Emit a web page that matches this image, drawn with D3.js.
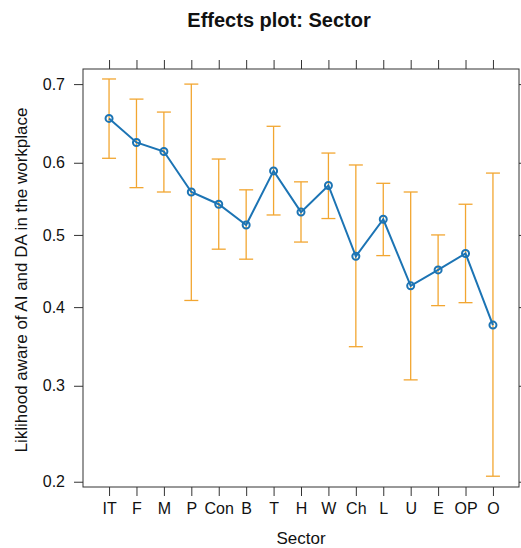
<!DOCTYPE html>
<html>
<head>
<meta charset="utf-8">
<script src="https://cdn.jsdelivr.net/npm/d3@7"></script>
<style>
  html, body { margin: 0; padding: 0; background: #fff; }
  svg { display: block; font-family: "Liberation Sans", Arial, Helvetica, sans-serif; }
</style>
</head>
<body>
<svg id="chart" width="521" height="548"></svg>
<script>
// Sector effects: fitted probability with lower / upper confidence limits
const sectors = ["IT", "F", "M", "P", "Con", "B", "T", "H", "W", "Ch", "L", "U", "E", "OP", "O"];
const fit     = [0.658, 0.627, 0.615, 0.560, 0.543, 0.514, 0.589, 0.532, 0.569, 0.470, 0.522, 0.429, 0.451, 0.474, 0.376];
const lower   = [0.606, 0.566, 0.560, 0.409, 0.480, 0.466, 0.528, 0.490, 0.523, 0.348, 0.471, 0.307, 0.402, 0.406, 0.205];
const upper   = [0.706, 0.682, 0.666, 0.700, 0.605, 0.563, 0.648, 0.574, 0.613, 0.597, 0.572, 0.560, 0.500, 0.543, 0.586];
const yTicks  = [0.2, 0.3, 0.4, 0.5, 0.6, 0.7];

const W = 521, H = 548;
const panel = { left: 83, right: 519, top: 69, bottom: 487 };

const svg = d3.select("#chart");
svg.append("rect").attr("width", W).attr("height", H).attr("fill", "#fff");

const logit = p => Math.log(p / (1 - p));
const invLogit = z => 1 / (1 + Math.exp(-z));

// x: categorical positions
const x = d3.scalePoint().domain(sectors).range([panel.left, panel.right]).padding(0.95);
// y: linear in logit units, labelled on the probability scale
const yl = d3.scaleLinear().domain([logit(0.1953), logit(0.7175)]).range([panel.bottom, panel.top]);
const y = p => yl(logit(p));

const tickLen = 9;
const fmt = z => d3.format(".1f")(invLogit(z));
const fontFamily = "'Liberation Sans', Arial, Helvetica, sans-serif";

// Axes
const axisColor = "#333";
const gLeft = svg.append("g").attr("transform", `translate(${panel.left},0)`)
  .call(d3.axisLeft(yl).tickValues(yTicks.map(logit)).tickFormat(fmt).tickSize(tickLen).tickSizeOuter(0).tickPadding(9));
const gBottom = svg.append("g").attr("transform", `translate(0,${panel.bottom})`)
  .call(d3.axisBottom(x).tickSize(tickLen).tickSizeOuter(0).tickPadding(7));
const gTop = svg.append("g").attr("transform", `translate(0,${panel.top})`)
  .call(d3.axisTop(x).tickFormat("").tickSize(tickLen).tickSizeOuter(0));
const gRight = svg.append("g").attr("transform", `translate(${panel.right},0)`)
  .call(d3.axisRight(yl).tickValues(yTicks.map(logit)).tickFormat("").tickSize(tickLen).tickSizeOuter(0));

[gLeft, gBottom, gTop, gRight].forEach(g => {
  g.select(".domain").remove();
  g.selectAll(".tick line").attr("stroke", axisColor).attr("stroke-width", 1);
  g.selectAll(".tick text").attr("fill", "#111").style("font-size", "16px").style("font-family", fontFamily);
});

// Panel frame
svg.append("rect")
  .attr("x", panel.left).attr("y", panel.top)
  .attr("width", panel.right - panel.left).attr("height", panel.bottom - panel.top)
  .attr("fill", "none").attr("stroke", axisColor).attr("stroke-width", 1);

// Confidence-interval bars
const barColor = "#f2a631";
const capHalf = 7;
const bars = svg.append("g").attr("stroke", barColor).attr("stroke-width", 1.3).attr("fill", "none");
sectors.forEach((s, i) => {
  const cx = x(s);
  bars.append("line").attr("x1", cx).attr("x2", cx).attr("y1", y(lower[i])).attr("y2", y(upper[i]));
  bars.append("line").attr("x1", cx - capHalf).attr("x2", cx + capHalf).attr("y1", y(lower[i])).attr("y2", y(lower[i]));
  bars.append("line").attr("x1", cx - capHalf).attr("x2", cx + capHalf).attr("y1", y(upper[i])).attr("y2", y(upper[i]));
});

// Fitted effect line and points
const lineColor = "#1c74b4";
const line = d3.line().x((d, i) => x(sectors[i])).y(d => y(d));
svg.append("path").datum(fit)
  .attr("d", line).attr("fill", "none").attr("stroke", lineColor).attr("stroke-width", 2);
svg.append("g").selectAll("circle").data(fit).join("circle")
  .attr("cx", (d, i) => x(sectors[i])).attr("cy", d => y(d)).attr("r", 3.5)
  .attr("fill", "none").attr("stroke", lineColor).attr("stroke-width", 2);

// Titles
svg.append("text").attr("x", 279).attr("y", 27).attr("text-anchor", "middle")
  .style("font-size", "20px").style("font-weight", "bold").attr("fill", "#111")
  .text("Effects plot: Sector");
svg.append("text").attr("x", (panel.left + panel.right) / 2).attr("y", 544).attr("text-anchor", "middle")
  .style("font-size", "17px").attr("fill", "#111").text("Sector");
svg.append("text").attr("transform", `translate(27,${(panel.top + panel.bottom) / 2 + 2}) rotate(-90)`)
  .attr("text-anchor", "middle").style("font-size", "17px").attr("fill", "#111")
  .text("Liklihood aware of AI and DA in the workplace");
</script>
</body>
</html>
